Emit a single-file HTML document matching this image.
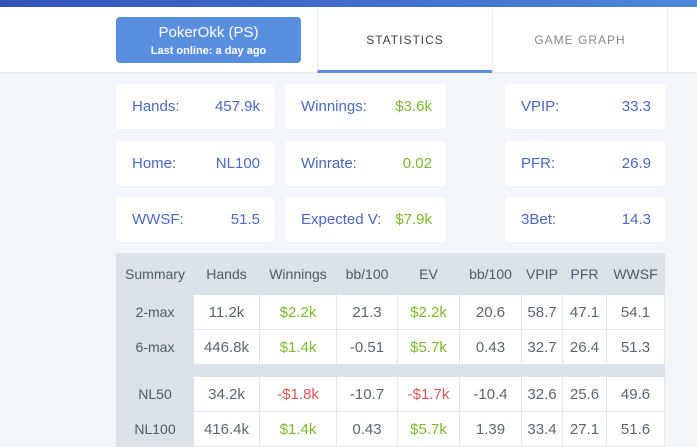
<!DOCTYPE html>
<html><head><meta charset="utf-8"><style>
*{box-sizing:border-box;margin:0;padding:0}
body{width:697px;height:424px;overflow:hidden;background:#f2f5f9;font-family:"Liberation Sans",sans-serif;position:relative}
.topbar{position:absolute;left:0;top:0;width:697px;height:7px;background:linear-gradient(90deg,#3355b8,#4f86d8)}
.header{position:absolute;left:0;top:7px;width:697px;height:66px;background:#fff;border-bottom:1px solid #e6ebf0}
.pbtn{position:absolute;left:116px;top:17px;width:185px;height:46px;background:#5a8fe0;border-radius:4px;color:#fff;text-align:center}
.pbtn .n{font-size:15px;margin-top:7px}
.pbtn .s{font-size:11px;font-weight:bold;margin-top:4px}
.tab{position:absolute;top:7px;height:66px;line-height:66px;text-align:center;font-size:12px;letter-spacing:1px;border-left:1px solid #e8ecf0}
.card{position:absolute;background:#fff;border-radius:4px;height:45px;line-height:45px;font-size:15px;color:#4b68c2}
.card .l{position:absolute;left:16px}
.card .v{position:absolute;right:14px}
.g{color:#7cb82f!important}.r{color:#dd5555!important}
table{position:absolute;left:116px;top:253px;border-collapse:collapse;font-size:15px;color:#5d6670}
td,th{text-align:center;border:1px solid #e2e7ec;background:#fff;padding:0}
th{background:#dbe2e9;font-weight:normal;height:41px;color:#4d5a6a;font-size:14px;border-color:#dbe2e9}
td.h{background:#dbe2e9;font-size:14px;color:#4d5a6a;border-color:#dbe2e9}
tr.r1 td{height:35px}
tr.sep td{height:12px;background:#dbe2e9;border-color:#dbe2e9}
</style></head><body>
<div class="topbar"></div>
<div class="header"></div>
<div class="pbtn"><div class="n">PokerOkk (PS)</div><div class="s">Last online: a day ago</div></div>
<div class="tab" style="left:317px;width:175px;color:#444;border-bottom:3px solid #5a8fe0">STATISTICS</div>
<div class="tab" style="left:492px;width:176px;color:#888;border-right:1px solid #e8ecf0">GAME GRAPH</div>

<div class="card" style="left:116px;top:84px;width:158px"><span class="l">Hands:</span><span class="v">457.9k</span></div>
<div class="card" style="left:285px;top:84px;width:161px"><span class="l">Winnings:</span><span class="v g">$3.6k</span></div>
<div class="card" style="left:505px;top:84px;width:160px"><span class="l">VPIP:</span><span class="v">33.3</span></div>
<div class="card" style="left:116px;top:141px;width:158px"><span class="l">Home:</span><span class="v">NL100</span></div>
<div class="card" style="left:285px;top:141px;width:161px"><span class="l">Winrate:</span><span class="v g">0.02</span></div>
<div class="card" style="left:505px;top:141px;width:160px"><span class="l">PFR:</span><span class="v">26.9</span></div>
<div class="card" style="left:116px;top:197px;width:158px"><span class="l">WWSF:</span><span class="v">51.5</span></div>
<div class="card" style="left:285px;top:197px;width:161px"><span class="l">Expected V:</span><span class="v g">$7.9k</span></div>
<div class="card" style="left:505px;top:197px;width:160px"><span class="l">3Bet:</span><span class="v">14.3</span></div>

<table>
<colgroup><col style="width:77px"><col style="width:66px"><col style="width:77px"><col style="width:61px"><col style="width:62px"><col style="width:62px"><col style="width:41px"><col style="width:44px"><col style="width:58px"></colgroup>
<tr><th>Summary</th><th>Hands</th><th>Winnings</th><th>bb/100</th><th>EV</th><th>bb/100</th><th>VPIP</th><th>PFR</th><th>WWSF</th></tr>
<tr class="r1"><td class="h">2-max</td><td>11.2k</td><td class="g">$2.2k</td><td>21.3</td><td class="g">$2.2k</td><td>20.6</td><td>58.7</td><td>47.1</td><td>54.1</td></tr>
<tr class="r1"><td class="h">6-max</td><td>446.8k</td><td class="g">$1.4k</td><td>-0.51</td><td class="g">$5.7k</td><td>0.43</td><td>32.7</td><td>26.4</td><td>51.3</td></tr>
<tr class="sep"><td colspan="9"></td></tr>
<tr class="r1"><td class="h">NL50</td><td>34.2k</td><td class="r">-$1.8k</td><td>-10.7</td><td class="r">-$1.7k</td><td>-10.4</td><td>32.6</td><td>25.6</td><td>49.6</td></tr>
<tr class="r1"><td class="h">NL100</td><td>416.4k</td><td class="g">$1.4k</td><td>0.43</td><td class="g">$5.7k</td><td>1.39</td><td>33.4</td><td>27.1</td><td>51.6</td></tr>
</table>
</body></html>
